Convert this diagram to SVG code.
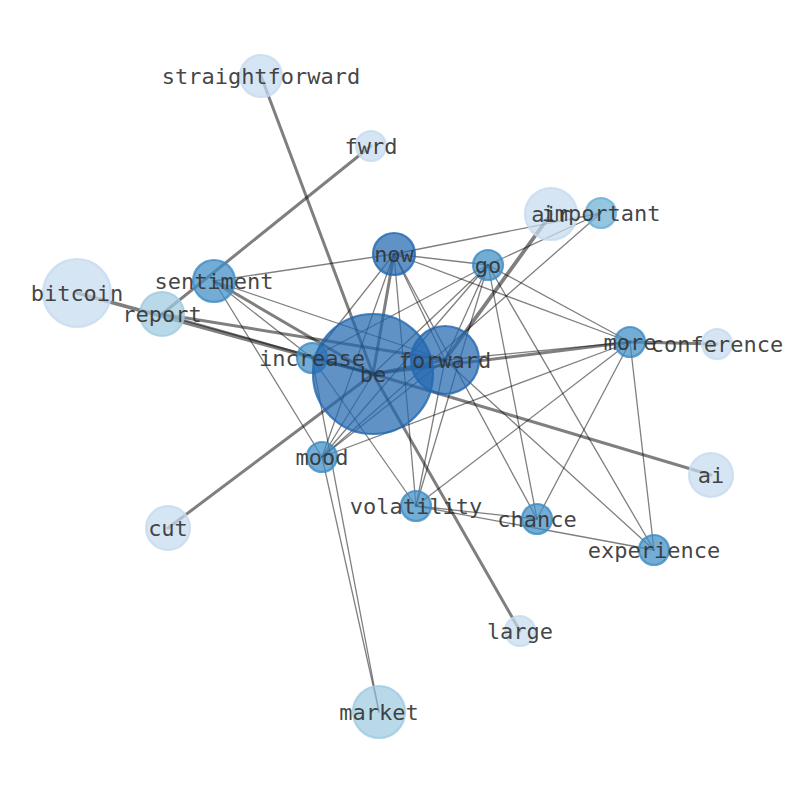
<svg xmlns="http://www.w3.org/2000/svg" width="794" height="790" viewBox="0 0 794 790">
<style>
.e{stroke:#000;stroke-opacity:.5;stroke-linecap:round;fill:none}
.t{stroke-width:1.3}
.w2{stroke-width:2.2}
.w3{stroke-width:3}
.w4{stroke-width:3.8}
.n circle{stroke-width:2.2;fill-opacity:.72;stroke-opacity:.8}
.c0 circle{fill:#c6dbef;stroke:#c6dbef}
.c1 circle{fill:#9ecae1;stroke:#9ecae1}
.c2 circle{fill:#6baed6;stroke:#6baed6}
.c3 circle{fill:#3d8cc4;stroke:#3d8cc4}
.c4 circle{fill:#2268b0;stroke:#2268b0}
text{font-family:"DejaVu Sans Mono","Liberation Mono",monospace;font-size:22px;fill:#333;fill-opacity:.92;text-anchor:middle;dominant-baseline:central}
</style>
<rect width="794" height="790" fill="#fff"/>
<g id="edges">
<line class="e w3" x1="261" y1="76" x2="373" y2="374"/>
<line class="e w3" x1="373" y1="374" x2="520" y2="631"/>
<line class="e w3" x1="162" y1="314" x2="371" y2="146"/>
<line class="e w4" x1="77" y1="293" x2="373" y2="374"/>
<line class="e w3" x1="162" y1="314" x2="445" y2="360"/>
<line class="e w2" x1="162" y1="314" x2="373" y2="374"/>
<line class="e w4" x1="551" y1="214" x2="445" y2="360"/>
<line class="e w3" x1="168" y1="528" x2="373" y2="374"/>
<line class="e w3" x1="373" y1="374" x2="630" y2="342"/>
<line class="e w3" x1="630" y1="342" x2="717" y2="344"/>
<line class="e w3" x1="373" y1="374" x2="711" y2="475"/>
<line class="e w3" x1="394" y1="254" x2="373" y2="374"/>
<line class="e w3" x1="214" y1="281" x2="373" y2="374"/>
<line class="e w3" x1="373" y1="374" x2="445" y2="360"/>
<line class="e w2" x1="312" y1="358" x2="373" y2="374"/>
<line class="e t" x1="394" y1="254" x2="214" y2="281"/>
<line class="e t" x1="394" y1="254" x2="601" y2="213"/>
<line class="e t" x1="394" y1="254" x2="488" y2="265"/>
<line class="e t" x1="394" y1="254" x2="630" y2="342"/>
<line class="e t" x1="394" y1="254" x2="537" y2="519"/>
<line class="e t" x1="394" y1="254" x2="312" y2="358"/>
<line class="e t" x1="394" y1="254" x2="322" y2="457"/>
<line class="e t" x1="394" y1="254" x2="416" y2="506"/>
<line class="e t" x1="394" y1="254" x2="445" y2="360"/>
<line class="e t" x1="488" y1="265" x2="601" y2="213"/>
<line class="e t" x1="488" y1="265" x2="630" y2="342"/>
<line class="e t" x1="488" y1="265" x2="537" y2="519"/>
<line class="e t" x1="488" y1="265" x2="654" y2="550"/>
<line class="e t" x1="488" y1="265" x2="416" y2="506"/>
<line class="e t" x1="488" y1="265" x2="322" y2="457"/>
<line class="e t" x1="488" y1="265" x2="373" y2="374"/>
<line class="e t" x1="488" y1="265" x2="445" y2="360"/>
<line class="e t" x1="488" y1="265" x2="312" y2="358"/>
<line class="e t" x1="214" y1="281" x2="445" y2="360"/>
<line class="e t" x1="214" y1="281" x2="312" y2="358"/>
<line class="e t" x1="214" y1="281" x2="322" y2="457"/>
<line class="e t" x1="312" y1="358" x2="416" y2="506"/>
<line class="e t" x1="312" y1="358" x2="379" y2="712"/>
<line class="e t" x1="322" y1="457" x2="379" y2="712"/>
<line class="e t" x1="322" y1="457" x2="601" y2="213"/>
<line class="e t" x1="322" y1="457" x2="445" y2="360"/>
<line class="e t" x1="322" y1="457" x2="373" y2="374"/>
<line class="e t" x1="322" y1="457" x2="630" y2="342"/>
<line class="e t" x1="416" y1="506" x2="630" y2="342"/>
<line class="e t" x1="416" y1="506" x2="537" y2="519"/>
<line class="e t" x1="416" y1="506" x2="654" y2="550"/>
<line class="e t" x1="537" y1="519" x2="630" y2="342"/>
<line class="e t" x1="654" y1="550" x2="630" y2="342"/>
<line class="e t" x1="445" y1="360" x2="654" y2="550"/>
<line class="e t" x1="445" y1="360" x2="630" y2="342"/>
<line class="e t" x1="445" y1="360" x2="416" y2="506"/>
</g>
<g id="n-straightforward" class="n c0"><circle cx="261" cy="76" r="21"/></g>
<g id="n-fwrd" class="n c0"><circle cx="371" cy="146" r="15"/></g>
<g id="n-air" class="n c0"><circle cx="551" cy="214" r="26"/></g>
<g id="n-important" class="n c2"><circle cx="601" cy="213" r="15"/></g>
<g id="n-bitcoin" class="n c0"><circle cx="77" cy="293" r="34"/></g>
<g id="n-report" class="n c1"><circle cx="162" cy="314" r="22"/></g>
<g id="n-sentiment" class="n c3"><circle cx="214" cy="281" r="21"/></g>
<g id="n-now" class="n c4"><circle cx="394" cy="254" r="21"/></g>
<g id="n-go" class="n c3"><circle cx="488" cy="265" r="15"/></g>
<g id="n-increase" class="n c3"><circle cx="312" cy="358" r="15"/></g>
<g id="n-be" class="n c4"><circle cx="373" cy="374" r="60"/></g>
<g id="n-forward" class="n c4"><circle cx="445" cy="360" r="34"/></g>
<g id="n-more" class="n c3"><circle cx="630" cy="342" r="15"/></g>
<g id="n-conference" class="n c0"><circle cx="717" cy="344" r="15"/></g>
<g id="n-mood" class="n c3"><circle cx="322" cy="457" r="15"/></g>
<g id="n-volatility" class="n c3"><circle cx="416" cy="506" r="15"/></g>
<g id="n-chance" class="n c3"><circle cx="537" cy="519" r="15"/></g>
<g id="n-experience" class="n c3"><circle cx="654" cy="550" r="15"/></g>
<g id="n-ai" class="n c0"><circle cx="711" cy="475" r="22"/></g>
<g id="n-cut" class="n c0"><circle cx="168" cy="528" r="22"/></g>
<g id="n-large" class="n c0"><circle cx="520" cy="631" r="15"/></g>
<g id="n-market" class="n c1"><circle cx="379" cy="712" r="26"/></g>
<g id="labels">
<text x="261" y="76">straightforward</text>
<text x="371" y="146">fwrd</text>
<text x="551" y="214">air</text>
<text x="601" y="213">important</text>
<text x="77" y="293">bitcoin</text>
<text x="162" y="314">report</text>
<text x="214" y="281">sentiment</text>
<text x="394" y="254">now</text>
<text x="488" y="265">go</text>
<text x="312" y="358">increase</text>
<text x="373" y="374">be</text>
<text x="445" y="360">forward</text>
<text x="630" y="342">more</text>
<text x="717" y="344">conference</text>
<text x="322" y="457">mood</text>
<text x="416" y="506">volatility</text>
<text x="537" y="519">chance</text>
<text x="654" y="550">experience</text>
<text x="711" y="475">ai</text>
<text x="168" y="528">cut</text>
<text x="520" y="631">large</text>
<text x="379" y="712">market</text>
</g>
</svg>
